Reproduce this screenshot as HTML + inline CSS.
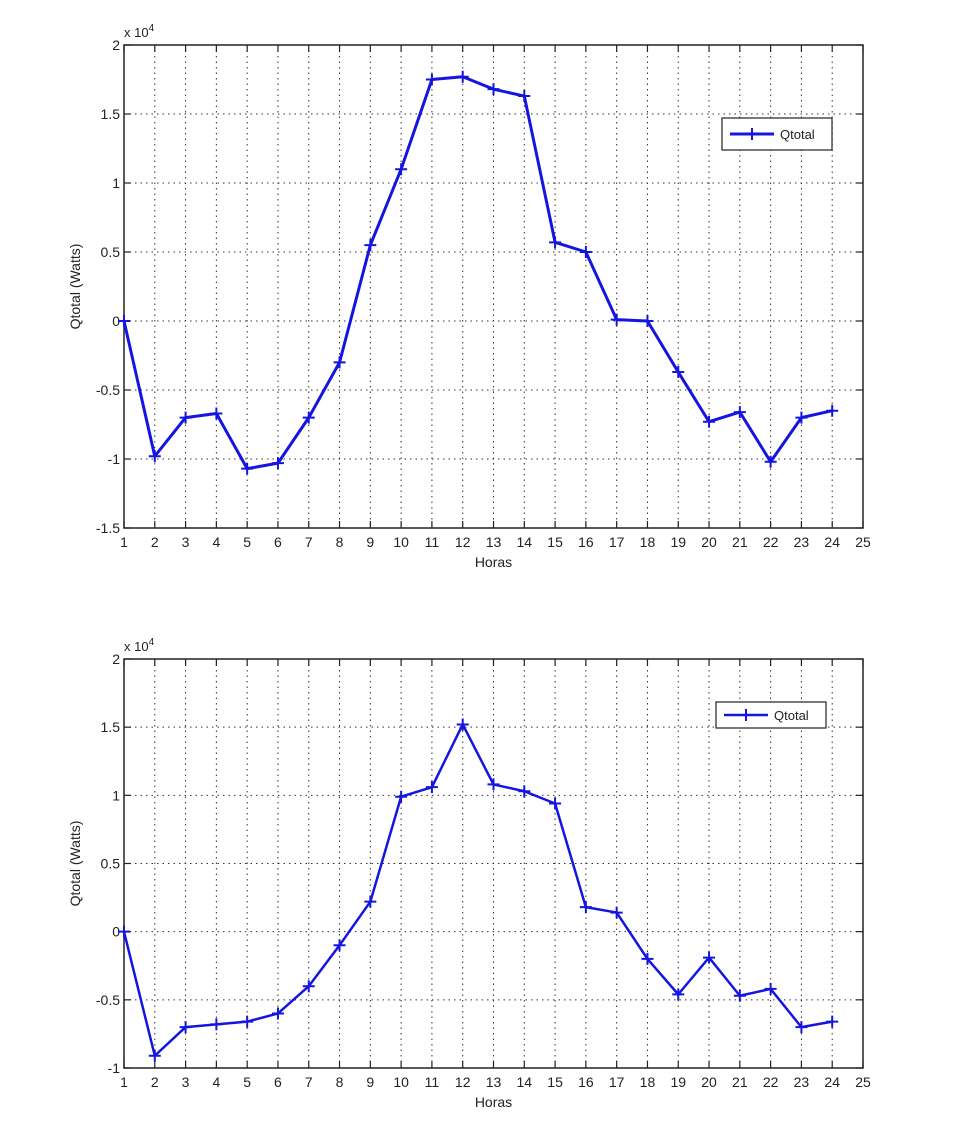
<!DOCTYPE html>
<html><head><meta charset="utf-8">
<style>
body{margin:0;background:#fff;}
svg text{font-family:"Liberation Sans",Arial,sans-serif;fill:#222;}
</style></head>
<body>
<svg id="fig" width="954" height="1127" xmlns="http://www.w3.org/2000/svg"></svg>
<script>
const hours=[1,2,3,4,5,6,7,8,9,10,11,12,13,14,15,16,17,18,19,20,21,22,23,24];
const topValues=[0,-9800,-7000,-6700,-10700,-10300,-7000,-3000,5500,11000,17500,17700,16800,16300,5700,5000,100,0,-3700,-7300,-6600,-10200,-7000,-6500];
const bottomValues=[0,-9100,-7000,-6800,-6600,-6000,-4000,-1000,2200,9900,10600,15200,10800,10300,9400,1800,1400,-2000,-4600,-1900,-4700,-4200,-7000,-6600];
const xTicks=[1,2,3,4,5,6,7,8,9,10,11,12,13,14,15,16,17,18,19,20,21,22,23,24,25];
const topYTicks=[-1.5,-1,-0.5,0,0.5,1,1.5,2];
const bottomYTicks=[-1,-0.5,0,0.5,1,1.5,2];
const svg=document.getElementById('fig');
const NS='http://www.w3.org/2000/svg';
function mk(tag,attrs,parent){const e=document.createElementNS(NS,tag);for(const k in attrs)e.setAttribute(k,attrs[k]);(parent||svg).appendChild(e);return e;}
function drawChart(name,box,yTicks,values,lw,leg){
  const g=mk('g',{});
  
  
  const ymin=yTicks[0],ymax=yTicks[yTicks.length-1];
  const X=v=>box.x0+(v-1)/24*(box.x1-box.x0);
  const Y=v=>box.y1-(v/1e4-ymin)/(ymax-ymin)*(box.y1-box.y0);
  xTicks.forEach(t=>{
    const x=X(t);
    if(t>1&&t<25){const l=mk('line',{x1:x,x2:x,y1:box.y0,y2:box.y1,stroke:'#333','stroke-width':1,'stroke-dasharray':'1.5,4'},g);
      }
    mk('line',{x1:x,x2:x,y1:box.y1,y2:box.y1-7,stroke:'#222','stroke-width':1.2},g);
    mk('line',{x1:x,x2:x,y1:box.y0,y2:box.y0+7,stroke:'#222','stroke-width':1.2},g);
    const tx=mk('text',{x:x,y:box.y1+19,'font-size':14,'text-anchor':'middle'},g);tx.textContent=t;
    
  });
  yTicks.forEach(t=>{
    const y=Y(t*1e4);
    if(t>ymin&&t<ymax){const l=mk('line',{x1:box.x0,x2:box.x1,y1:y,y2:y,stroke:'#333','stroke-width':1,'stroke-dasharray':'1.5,4'},g);
      }
    mk('line',{x1:box.x0,x2:box.x0+7,y1:y,y2:y,stroke:'#222','stroke-width':1.2},g);
    mk('line',{x1:box.x1,x2:box.x1-7,y1:y,y2:y,stroke:'#222','stroke-width':1.2},g);
    const tx=mk('text',{x:box.x0-4,y:y+5,'font-size':14,'text-anchor':'end'},g);tx.textContent=String(t);
    
  });
  const r=mk('rect',{x:box.x0,y:box.y0,width:box.x1-box.x0,height:box.y1-box.y0,fill:'none',stroke:'#222','stroke-width':1.5},g);
  
  const ex=mk('text',{x:box.x0+0,y:box.y0-8,'font-size':13},g);ex.innerHTML='x 10<tspan dy="-6" font-size="10">4</tspan>';
  
  const xl=mk('text',{x:(box.x0+box.x1)/2,y:box.y1+39,'font-size':14,'text-anchor':'middle'},g);xl.textContent='Horas';
  
  const cy=(box.y0+box.y1)/2;
  const yl=mk('text',{x:80,y:cy,'font-size':14,'text-anchor':'middle',transform:`rotate(-90 80 ${cy})`},g);yl.textContent='Qtotal (Watts)';
  
  const pts=hours.map((h,i)=>X(h)+','+Y(values[i])).join(' ');
  const pl=mk('polyline',{points:pts,fill:'none',stroke:'#1515e0','stroke-width':lw,'stroke-linejoin':'round'},g);
  
  hours.forEach((h,i)=>{const x=X(h),y=Y(values[i]);
    const p=mk('path',{d:`M${x-6},${y}H${x+6}M${x},${y-6}V${y+6}`,stroke:'#1515e0','stroke-width':2},g);
    });
  const lg=mk('g',{},g);
  
  mk('rect',{x:leg.x,y:leg.y,width:leg.w,height:leg.h,fill:'#fff',stroke:'#222','stroke-width':1.2},lg);
  const my=leg.y+leg.h/2;
  mk('line',{x1:leg.x+8,x2:leg.x+52,y1:my,y2:my,stroke:'#1515e0','stroke-width':lw},lg);
  mk('path',{d:`M${leg.x+24},${my}H${leg.x+36}M${leg.x+30},${my-6}V${my+6}`,stroke:'#1515e0','stroke-width':2},lg);
  const lt=mk('text',{x:leg.x+58,y:my+5,'font-size':13},lg);lt.textContent='Qtotal';
  
}
drawChart('top-chart',{x0:124,x1:863,y0:45,y1:528},topYTicks,topValues,3,{x:722,y:118,w:110,h:32});
drawChart('bottom-chart',{x0:124,x1:863,y0:659,y1:1068},bottomYTicks,bottomValues,2.5,{x:716,y:702,w:110,h:26});
</script>
</body></html>
